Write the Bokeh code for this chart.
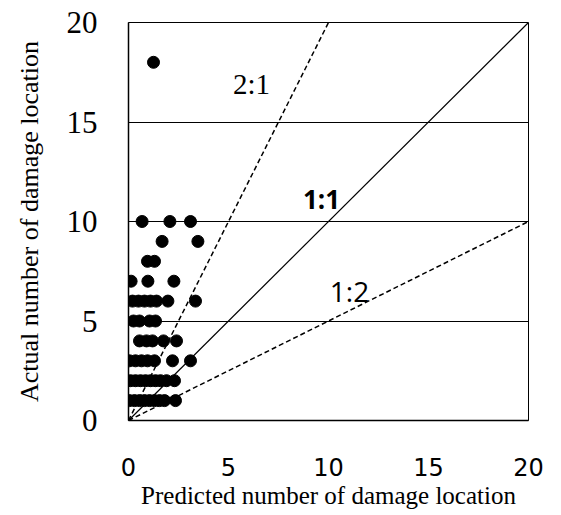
from bokeh.plotting import figure
from bokeh.models import FixedTicker, Range1d
from bokeh.core.properties import value
from bokeh.embed import file_html
from bokeh.resources import INLINE

# ---- data ----
predicted = [
    # actual = 1
    0.05, 0.3, 0.55, 0.8, 1.05, 1.3, 1.55, 1.8, 2.35,
    # actual = 2
    0.1, 0.35, 0.6, 0.85, 1.1, 1.35, 1.6, 1.9, 2.3,
    # actual = 3
    0.05, 0.35, 0.65, 0.95, 1.3, 2.2, 3.1,
    # actual = 4
    0.55, 0.9, 1.2, 1.75, 2.4,
    # actual = 5
    0.25, 0.55, 1.05, 1.35,
    # actual = 6
    0.2, 0.5, 0.8, 1.1, 1.4, 1.97, 3.35,
    # actual = 7
    0.13, 0.97, 2.27,
    # actual = 8
    0.95, 1.3,
    # actual = 9
    1.68, 3.47,
    # actual = 10
    0.68, 2.07, 3.1,
    # actual = 18
    1.25,
]
actual = (
    [1] * 9 + [2] * 9 + [3] * 7 + [4] * 5 + [5] * 4 + [6] * 7
    + [7] * 3 + [8] * 2 + [9] * 2 + [10] * 3 + [18]
)

ratio_names = ["2:1", "1:1", "1:2"]
ratio_values = [2.0, 1.0, 0.5]
ratio_dash = ["dashed", "solid", "dashed"]
label_x = [6.15, 9.65, 11.05]
label_y = [16.9, 11.15, 6.5]

axis_max = 20
x_ticks = [0, 5, 10, 15, 20]
y_ticks = [0, 5, 10, 15, 20]

# ---- figure ----
p = figure(
    width=553, height=511,
    x_range=Range1d(0, axis_max), y_range=Range1d(0, axis_max),
    output_backend="svg", toolbar_location=None,
    min_border_left=128, min_border_right=25,
    min_border_top=22, min_border_bottom=91,
)
p.outline_line_color = "black"
p.outline_line_width = 1
p.background_fill_color = "white"
p.border_fill_color = "white"

p.xgrid.grid_line_color = None
p.ygrid.grid_line_color = "black"
p.ygrid.grid_line_width = 1
p.ygrid.ticker = FixedTicker(ticks=y_ticks)

for ax in (p.xaxis[0], p.yaxis[0]):
    ax.major_tick_line_color = None
    ax.minor_tick_line_color = None
    ax.axis_line_color = "black"
    ax.axis_line_width = 1.5

p.xaxis.ticker = FixedTicker(ticks=x_ticks)
p.yaxis.ticker = FixedTicker(ticks=y_ticks)

p.xaxis.major_label_text_font = "DejaVu Sans"
p.xaxis.major_label_text_font_size = "24px"
p.xaxis.major_label_text_color = "black"
p.xaxis.major_label_standoff = 31
p.xaxis.axis_label = "Predicted number of damage location"
p.xaxis.axis_label_text_font = "Liberation Serif"
p.xaxis.axis_label_text_font_style = "normal"
p.xaxis.axis_label_text_font_size = "25px"
p.xaxis.axis_label_standoff = 3
p.xaxis.axis_label_text_color = "black"

p.yaxis.major_label_text_font = "Liberation Serif"
p.yaxis.major_label_text_font_size = "31px"
p.yaxis.major_label_text_color = "black"
p.yaxis.major_label_standoff = 25
p.yaxis.axis_label = "Actual number of damage location"
p.yaxis.axis_label_text_font = "Liberation Serif"
p.yaxis.axis_label_text_font_style = "normal"
p.yaxis.axis_label_text_font_size = "26px"
p.yaxis.axis_label_standoff = 20
p.yaxis.axis_label_text_color = "black"

# reference ratio lines
for r, d in zip(ratio_values, ratio_dash):
    x_end = min(axis_max, axis_max / r)
    p.line([0, x_end], [0, x_end * r], line_color="black",
           line_width=1.5 if d == "dashed" else 1.2,
           line_dash="5 3" if d == "dashed" else "solid")

# scatter points
p.scatter(predicted, actual, size=12, fill_color="black", line_color="black")

# ratio labels
fonts = ["Liberation Serif", "Open Sans", "Open Sans"]
styles = ["normal", "bold", "normal"]
sizes = ["29px", "26px", "28px"]
for name, lx, ly, f, s, fs in zip(ratio_names, label_x, label_y, fonts, styles, sizes):
    p.text([lx], [ly], text=[name], text_font=value(f), text_font_style=s,
           text_font_size=fs, text_align="center", text_baseline="middle",
           text_color="black")

open("out.html", "w").write(file_html(p, INLINE))
